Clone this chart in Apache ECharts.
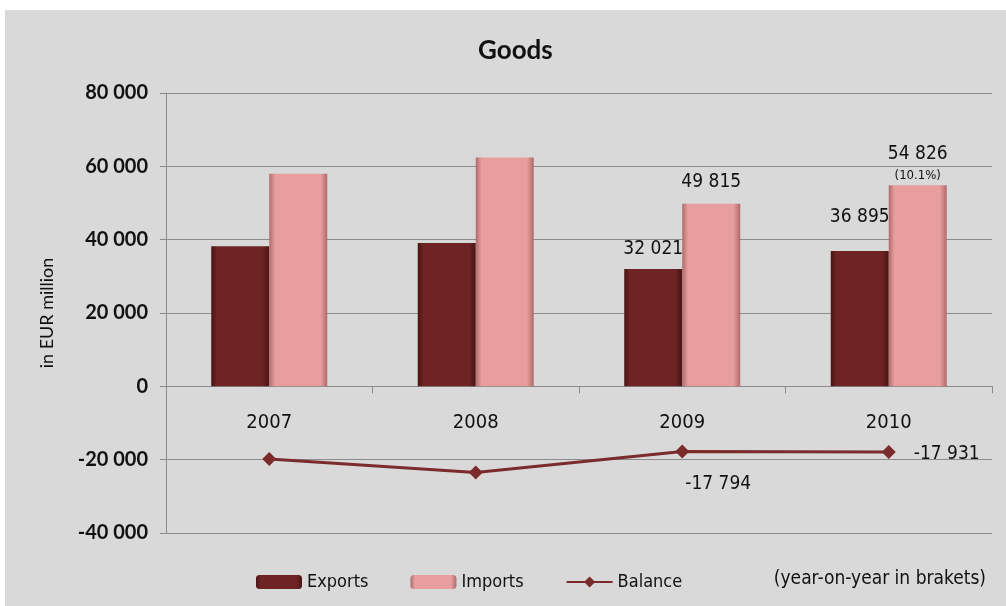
<!DOCTYPE html>
<html>
<head>
<meta charset="utf-8">
<script src="https://cdn.jsdelivr.net/npm/echarts@6/dist/echarts.min.js"></script>
<style>
html,body{margin:0;padding:0;background:#fff;}
#main{width:1006px;height:606px;}
</style>
</head>
<body>
<div id="main"></div>
<script>
var years = ['2007', '2008', '2009', '2010'];
var exportsData = [38200, 39100, 32021, 36895];
var importsData = [58000, 62400, 49815, 54826];
var balanceData = [-19800, -23500, -17794, -17931];
var yTicks = [-40000, -20000, 0, 20000, 40000, 60000, 80000];

var narrow = '"Liberation Sans Narrow", "DejaVu Sans Condensed", sans-serif';
var sans = 'Lato, "Open Sans", sans-serif';

function fmt(v) {
    var s = String(Math.abs(v)).replace(/\B(?=(\d{3})+(?!\d))/g, ' ');
    return (v < 0 ? '-' : '') + s;
}

function bevel(c1, c2) {
    return {
        type: 'linear', x: 0, y: 0, x2: 1, y2: 0,
        colorStops: [
            {offset: 0, color: c2},
            {offset: 0.1, color: c1},
            {offset: 0.88, color: c1},
            {offset: 1, color: c2}
        ]
    };
}

/*标签只放在部分柱子上*/
var expSeries = exportsData.map(function (v, i) {
    var d = {value: v};
    if (i == 2) d.label = {show: true, distance: 10};
    if (i == 3) d.label = {show: true, distance: 24};
    return d;
});
var impSeries = importsData.map(function (v, i) {
    var d = {value: v};
    if (i == 2) d.label = {show: true, distance: 12};
    if (i == 3) d.label = {
        show: true, distance: 2,
        formatter: function (p) { return '{a|' + fmt(p.value) + '}\n{b|(10.1%)}'; }
    };
    return d;
});
var balSeries = balanceData.map(function (v, i) {
    var d = {value: v};
    if (i == 2) d.label = {show: true, position: 'bottom', distance: 16, offset: [36, 0]};
    if (i == 3) d.label = {show: true, position: 'right', distance: 18, offset: [0, 2]};
    return d;
});

var myChart = echarts.init(document.getElementById('main'));
var option = {
    backgroundColor: '#fff',
    animation: false,
    graphic: [
        {type: 'rect', z: -10, shape: {x: 5, y: 10, width: 1001, height: 596}, style: {fill: '#d9d9d9'}},
        {type: 'text', right: 20, top: 570, style: {text: '(year-on-year in brakets)', font: '19px ' + narrow, fill: '#111'}}
    ],
    title: {
        text: 'Goods',
        left: 473,
        top: 33,
        textStyle: {fontFamily: sans, fontSize: 26, fontWeight: 'bold', color: '#111'}
    },
    legend: {
        left: 251,
        top: 568,
        itemWidth: 46,
        itemHeight: 14,
        itemGap: 42,
        textStyle: {fontFamily: narrow, fontSize: 18, color: '#111'},
        data: ['Exports', 'Imports', 'Balance']
    },
    grid: {left: 166, right: 14, top: 93, bottom: 73},
    xAxis: {
        type: 'category',
        data: years,
        axisLine: {onZero: true, lineStyle: {color: '#8a8a8a'}},
        axisTick: {show: true, length: 7, lineStyle: {color: '#8a8a8a'}},
        axisLabel: {margin: -120, fontFamily: narrow, fontSize: 20, color: '#111'}
    },
    yAxis: {
        type: 'value',
        min: yTicks[0],
        max: yTicks[yTicks.length - 1],
        interval: 20000,
        name: 'in EUR million',
        nameLocation: 'middle',
        nameGap: 110,
        nameTextStyle: {fontFamily: sans, fontSize: 18, color: '#111'},
        axisLine: {show: true, lineStyle: {color: '#8a8a8a'}},
        axisTick: {show: true, length: 6, lineStyle: {color: '#8a8a8a'}},
        splitLine: {lineStyle: {color: '#8c8c8c'}},
        axisLabel: {
            margin: 18,
            fontFamily: sans,
            fontSize: 20,
            fontWeight: 'bold',
            color: '#111',
            formatter: fmt
        }
    },
    series: [
        {
            name: 'Exports',
            type: 'bar',
            data: expSeries,
            barWidth: 58,
            barGap: '0%',
            itemStyle: {color: bevel('#6e2424', '#4a1414')},
            label: {
                show: false, position: 'top',
                fontFamily: narrow, fontSize: 19, color: '#111',
                formatter: function (p) { return fmt(p.value); }
            }
        },
        {
            name: 'Imports',
            type: 'bar',
            data: impSeries,
            barWidth: 58,
            barGap: '0%',
            itemStyle: {color: bevel('#e89e9e', '#b06a6a')},
            label: {
                show: false, position: 'top',
                fontFamily: narrow, fontSize: 19, color: '#111',
                formatter: function (p) { return fmt(p.value); },
                rich: {
                    a: {fontFamily: narrow, fontSize: 19, color: '#111', lineHeight: 26},
                    b: {fontFamily: narrow, fontSize: 13, color: '#111', lineHeight: 16}
                }
            }
        },
        {
            name: 'Balance',
            type: 'line',
            data: balSeries,
            z: 5,
            symbol: 'diamond',
            symbolSize: 14,
            lineStyle: {color: '#7b2b2b', width: 3},
            itemStyle: {color: '#7b2b2b'},
            label: {
                show: false,
                fontFamily: narrow, fontSize: 19, color: '#111',
                formatter: function (p) { return fmt(p.value); }
            }
        }
    ]
};
myChart.setOption(option);
</script>
</body>
</html>
